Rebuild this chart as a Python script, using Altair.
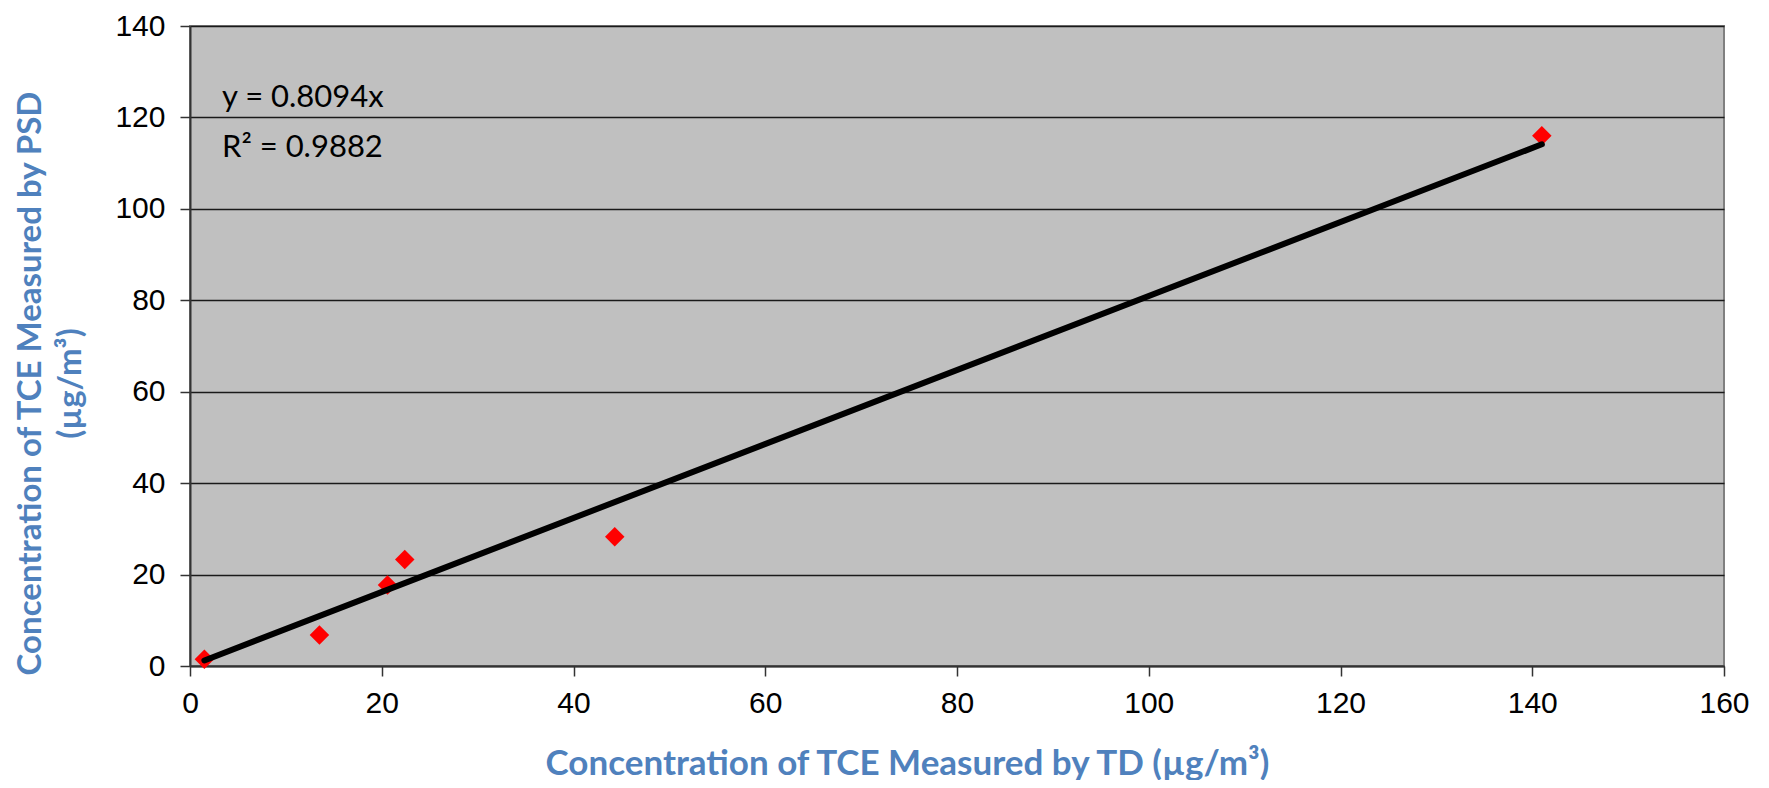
import altair as alt
import pandas as pd

td_values = [1.5, 13.5, 20.6, 22.4, 44.3, 141.0]
psd_values = [1.5, 6.8, 17.7, 23.3, 28.3, 116.0]

# Linear fit through origin shown on the chart
slope = 0.8094
r_squared = 0.9882
trend_x = [1.5, 141.0]
trend_y = [slope * v for v in trend_x]

x_ticks = [0, 20, 40, 60, 80, 100, 120, 140, 160]
y_ticks = [0, 20, 40, 60, 80, 100, 120, 140]

eq_lines = ["y = 0.8094x", "R\u00b2 = 0.9882"]

points = pd.DataFrame({"td": td_values, "psd": psd_values})
trend = pd.DataFrame({"td": trend_x, "psd": trend_y})

BLUE = "#4F81BD"
TITLE_FONT = "Lato"
TICK_FONT = "Liberation Sans"

x_enc = alt.X(
    "td:Q",
    scale=alt.Scale(domain=[0, 160], nice=False),
    axis=alt.Axis(
        values=x_ticks,
        grid=False,
        title="Concentration of TCE Measured by TD (\u00b5g/m\u00b3)",
        titleFont=TITLE_FONT,
        titleFontSize=35,
        titleFontWeight="bold",
        titleColor=BLUE,
        titleX=717,
        titleY=108,
        titleBaseline="alphabetic",
        labelFont=TICK_FONT,
        labelFontSize=30,
        labelColor="#000000",
        labelPadding=12,
        tickSize=10,
        tickColor="#333333",
        tickWidth=1.5,
        domainColor="#333333",
        domainWidth=2,
        labelFlush=False,
    ),
)

y_enc = alt.Y(
    "psd:Q",
    scale=alt.Scale(domain=[0, 140], nice=False),
    axis=alt.Axis(
        values=y_ticks,
        grid=True,
        gridColor="#1a1a1a",
        gridWidth=1.5,
        title=["Concentration of TCE Measured by PSD", "(\u00b5g/m\u00b3)"],
        titleFont=TITLE_FONT,
        titleFontSize=33,
        titleFontWeight="bold",
        titleColor=BLUE,
        titleLineHeight=40,
        titleX=-143,
        titleY=357,
        titleAngle=270,
        titleBaseline="bottom",
        labelFont=TICK_FONT,
        labelFontSize=30,
        labelColor="#000000",
        labelPadding=15,
        tickSize=10,
        tickColor="#333333",
        tickWidth=1.5,
        domainColor="#333333",
        domainWidth=2,
        labelFlush=False,
    ),
)

pts = alt.Chart(points).mark_point(
    shape="diamond", filled=True, color="#FF0000", size=380, opacity=1
).encode(x=x_enc, y=y_enc)

line = alt.Chart(trend).mark_line(color="#000000", strokeWidth=6, strokeCap="round").encode(
    x="td:Q", y="psd:Q"
)

eq1 = alt.Chart(pd.DataFrame({"label": [eq_lines[0]]})).mark_text(
    align="left", baseline="alphabetic", font=TITLE_FONT, fontSize=31, color="#000000"
).encode(text="label:N", x=alt.value(32), y=alt.value(81))

eq2 = alt.Chart(pd.DataFrame({"label": [eq_lines[1]]})).mark_text(
    align="left", baseline="alphabetic", font=TITLE_FONT, fontSize=31, color="#000000"
).encode(text="label:N", x=alt.value(32), y=alt.value(131))

chart = (
    alt.layer(pts, line, eq1, eq2)
    .properties(
        width=1534,
        height=640,
        padding={"left": 182, "top": 18, "right": 30, "bottom": 114},
        autosize=alt.AutoSizeParams(type="none"),
        background="#FFFFFF",
    )
    .configure_view(fill="#C0C0C0", stroke="#808080", strokeWidth=2)
)

chart.save("out.html", embed_options={"renderer": "svg", "actions": False})
